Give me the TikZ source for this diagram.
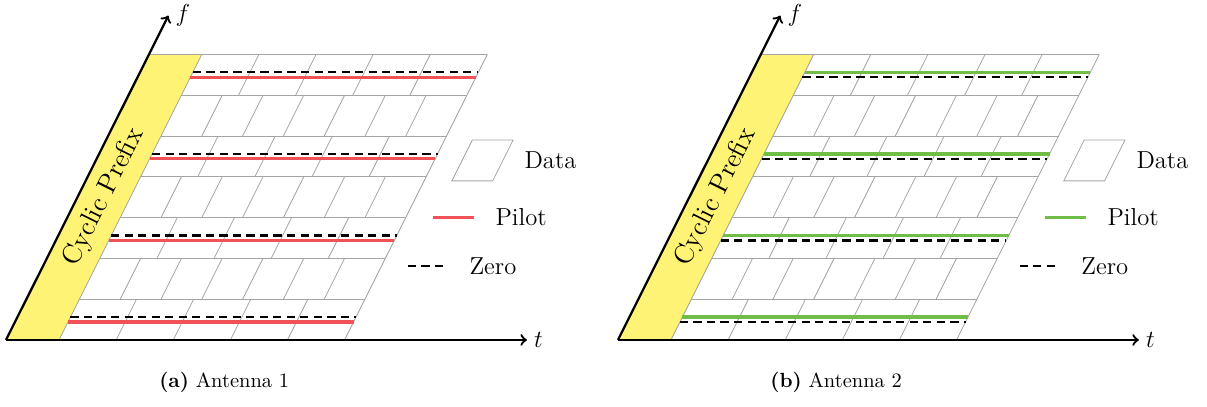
\documentclass[tikz,border=0pt]{standalone}
\usepackage{tikz}
\usetikzlibrary{positioning}
\definecolor{cpyellow}{RGB}{255,243,117}
\definecolor{pilotred}{RGB}{240,82,88}
\definecolor{pilotgreen}{RGB}{112,190,72}
\definecolor{gridgray}{RGB}{165,165,165}

\begin{document}
\begin{tikzpicture}[x=0.7cm,y=0.7cm,
  cell/.style={draw=gridgray,line width=0.4pt},
  pilotline/.style={line width=1.6pt},
  zeroline/.style={line width=1.1pt,dash pattern=on 4pt off 2.6pt},
  axis/.style={line width=1.1pt,->},
  lbl/.style={font=\large,inner sep=1pt}]
\useasboundingbox (-0.147,-1.642) rectangle (29.44,8.333);

% one panel per antenna: shift / pilot colour / pilot and zero offset / caption
\foreach \sx/\pc/\pd/\zd/\cap in {0/pilotred/-0.06/0.06/{\textbf{(a)} Antenna 1},
                                  15/pilotgreen/0.06/-0.06/{\textbf{(b)} Antenna 2}}{
\begin{scope}[shift={(\sx,0)}]
\coordinate (o\sx) at (0,0);
\coordinate (t\sx) at (12.77,0);
\coordinate (f\sx) at (3.98,7.95);

\begin{scope}[xslant=0.5]
\fill[cpyellow] (0,0) rectangle (1.3,7);
\draw[cell] (0,7) -- (8.3,7);
\foreach \y in {1,...,6} \draw[cell] (1.3,\y) -- (8.3,\y);
\draw[cell] (1.3,0) -- (1.3,7);
\draw[cell] (8.3,0) -- (8.3,7);
% pilot rows
\foreach \y in {0,2,4,6}
  \foreach \k in {1,...,4} \draw[cell] (1.3+1.4*\k,\y) -- ++(0,1);
% data rows
\foreach \y in {1,3,5}
  \foreach \k in {1,...,6} \draw[cell] (1.3+\k,\y) -- ++(0,1);
\foreach \y in {0.5,2.5,4.5,6.5}{
  \draw[pilotline,\pc] (1.3,{\y+\pd}) -- (8.3,{\y+\pd});
  \draw[zeroline] (1.3,{\y+\zd}) -- (8.3,{\y+\zd});
}
\node[rotate=63.43,font=\fontsize{13.3}{16}\selectfont] (cp\sx) at (0.65,3.5) {Cyclic Prefix};
\end{scope}

\draw[axis] (o\sx) -- (t\sx);
\draw[axis] (o\sx) -- (f\sx);
\node[font=\large,right] (tl\sx) at (t\sx) {$t$};
\node[font=\large,right] (fl\sx) at (f\sx) {$f$};

% legend
\draw[cell] (10.93,3.9) -- ++(1,0) -- ++(0.5,1) -- ++(-1,0) -- cycle;
\coordinate (db\sx) at (12.18,4.4);
\node[lbl,right=0.33cm of db\sx] (dl\sx) {Data};
\coordinate (pa\sx) at (10.47,3);
\coordinate (pb\sx) at (11.47,3);
\draw[pilotline,\pc] (pa\sx) -- (pb\sx);
\node[lbl,right=0.33cm of pb\sx] (pl\sx) {Pilot};
\coordinate (za\sx) at (9.85,1.81);
\coordinate (zb\sx) at (10.83,1.81);
\draw[zeroline] (za\sx) -- (zb\sx);
\node[lbl,right=0.33cm of zb\sx] (zl\sx) {Zero};

\node (cap\sx) at (5.35,-1.05) {\cap};
\end{scope}
}
\end{tikzpicture}
\end{document}
